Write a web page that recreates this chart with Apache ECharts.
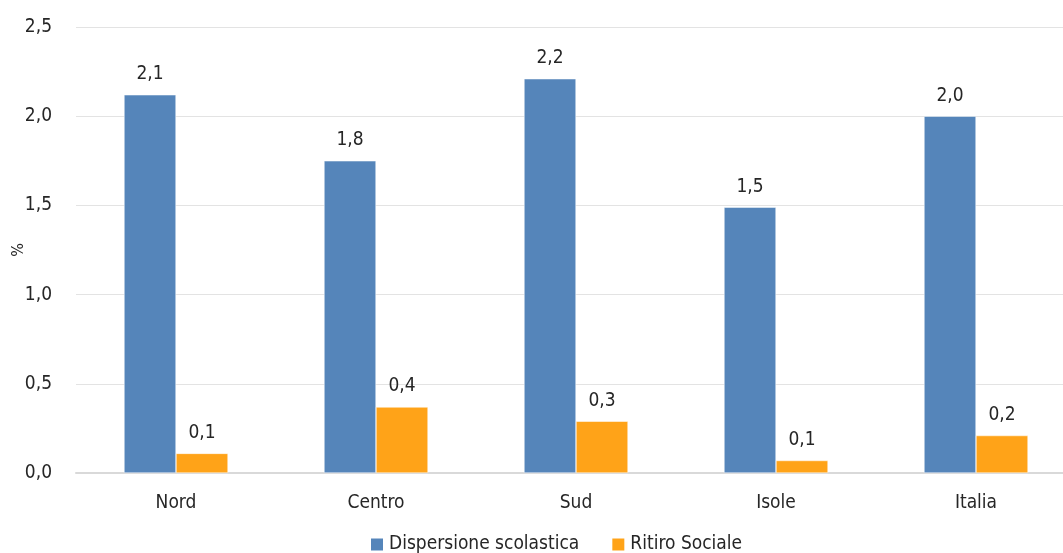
<!DOCTYPE html>
<html><head><meta charset="utf-8">
<script src="https://cdn.jsdelivr.net/npm/echarts@6/dist/echarts.min.js"></script>
<style>html,body{margin:0;padding:0;background:#fff}#c{width:1063px;height:553px}</style>
</head><body><div id="c"></div>
<script>
const categories = ['Nord','Centro','Sud','Isole','Italia'];
const dispersione = [2.12, 1.75, 2.21, 1.49, 2.00];
const ritiro = [0.11, 0.37, 0.29, 0.07, 0.21];
const yTicks = [0, 0.5, 1.0, 1.5, 2.0, 2.5];
const FONT = '"DejaVu Sans Condensed", "Liberation Sans Narrow", "Roboto", sans-serif';
const fmt = v => v.toFixed(1).replace('.', ',');
const chart = echarts.init(document.getElementById('c'));
const lbl = {show:true, position:'top', distance:11, fontFamily:FONT, fontSize:19, color:'#262626', formatter:p=>fmt(p.value)};
chart.setOption({
  animation:false,
  textStyle:{fontFamily:FONT},
  grid:{left:76, right:-13, top:27, bottom:80, containLabel:false, outerBoundsMode:'none'},
  legend:{bottom:-6, left:364, itemWidth:14, itemHeight:14, itemGap:31, icon:'rect',
    textStyle:{fontFamily:FONT, fontSize:19, color:'#262626'}},
  xAxis:{type:'category', data:categories,
    axisLine:{lineStyle:{color:'#d9d9d9', width:2}}, axisTick:{show:false},
    axisLabel:{fontFamily:FONT, fontSize:19, color:'#262626', margin:21}},
  yAxis:{type:'value', min:yTicks[0], max:yTicks[yTicks.length-1], interval:0.5,
    name:'%', nameLocation:'middle', nameGap:49, nameRotate:90, nameMoveOverlap:false,
    nameTextStyle:{fontFamily:FONT, fontSize:16, color:'#262626'},
    axisLine:{show:false}, axisTick:{show:false},
    axisLabel:{fontFamily:FONT, fontSize:19, color:'#262626', margin:24, formatter:v=>fmt(v)},
    splitLine:{lineStyle:{color:'#e3e3e3', width:1}}},
  series:[
    {name:'Dispersione scolastica', type:'bar', data:dispersione, barGap:'0%', barCategoryGap:'48%',
      itemStyle:{color:'#5585ba', borderColor:'#fff', borderWidth:0.5}, label:lbl},
    {name:'Ritiro Sociale', type:'bar', data:ritiro,
      itemStyle:{color:'#ffa318', borderColor:'#fff', borderWidth:0.5}, label:lbl}
  ]
});
</script></body></html>
